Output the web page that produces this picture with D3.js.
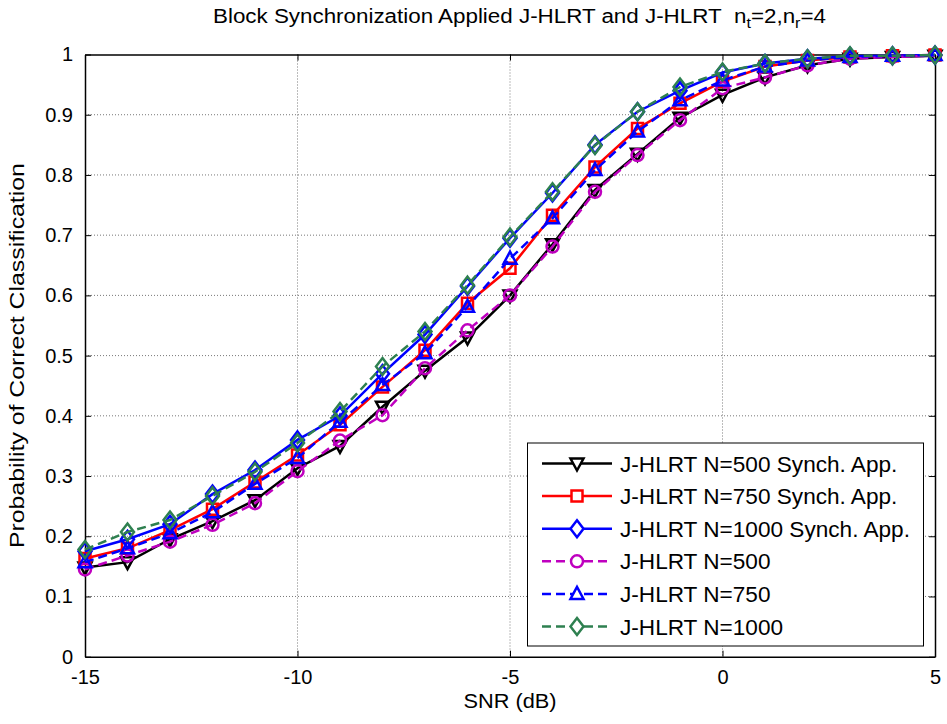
<!DOCTYPE html>
<html><head><meta charset="utf-8">
<script src="https://cdn.jsdelivr.net/npm/d3@7"></script>
<style>body{margin:0;background:#fff}svg{font-family:"Liberation Sans",Arial,sans-serif}</style>
</head><body>
<script>
const snr = [-15,-14,-13,-12,-11,-10,-9,-8,-7,-6,-5,-4,-3,-2,-1,0,1,2,3,4,5];
const synch500  = [0.148,0.157,0.195,0.225,0.260,0.313,0.350,0.415,0.475,0.530,0.600,0.685,0.775,0.835,0.895,0.933,0.962,0.982,0.993,0.996,0.998];
const synch750  = [0.163,0.180,0.210,0.245,0.290,0.335,0.385,0.448,0.509,0.587,0.645,0.733,0.813,0.877,0.919,0.955,0.980,0.990,0.996,0.998,0.999];
const synch1000 = [0.175,0.195,0.220,0.270,0.310,0.360,0.400,0.470,0.535,0.615,0.695,0.770,0.850,0.905,0.940,0.970,0.985,0.993,0.997,0.998,0.999];
const plain500  = [0.145,0.168,0.191,0.219,0.255,0.308,0.359,0.401,0.479,0.542,0.600,0.681,0.772,0.833,0.891,0.944,0.962,0.982,0.993,0.996,0.998];
const plain750  = [0.157,0.180,0.205,0.240,0.287,0.330,0.390,0.451,0.504,0.581,0.661,0.728,0.808,0.872,0.924,0.957,0.980,0.990,0.996,0.998,0.999];
const plain1000 = [0.178,0.207,0.227,0.267,0.307,0.355,0.407,0.482,0.540,0.617,0.697,0.772,0.849,0.905,0.946,0.971,0.985,0.993,0.998,0.998,0.999];
const seriesNames = ["J-HLRT N=500 Synch. App.","J-HLRT N=750 Synch. App.","J-HLRT N=1000 Synch. App.","J-HLRT N=500","J-HLRT N=750","J-HLRT N=1000"];
const xTicks = [-15,-10,-5,0,5];
const yTicks = [0,0.1,0.2,0.3,0.4,0.5,0.6,0.7,0.8,0.9,1];
const yTickLabels = ["0","0.1","0.2","0.3","0.4","0.5","0.6","0.7","0.8","0.9","1"];

const series = [
  {name:seriesNames[0], values:synch500,  color:"#000000", dash:null, marker:"tridown"},
  {name:seriesNames[1], values:synch750,  color:"#ff0000", dash:null, marker:"square"},
  {name:seriesNames[2], values:synch1000, color:"#0000ff", dash:null, marker:"diamond"},
  {name:seriesNames[3], values:plain500,  color:"#bf00bf", dash:"9,5", marker:"circle"},
  {name:seriesNames[4], values:plain750,  color:"#0000ff", dash:"9,5", marker:"triup"},
  {name:seriesNames[5], values:plain1000, color:"#2e8050", dash:"9,5", marker:"diamond"}
];

const W=947,H=724;
const L=85,R=935,T=54.5,B=656.7;
const svg=d3.select("body").append("svg").attr("width",W).attr("height",H);
const x=d3.scaleLinear().domain([-15,5]).range([L,R]);
const y=d3.scaleLinear().domain([0,1]).range([B,T]);

// grid
const g=svg.append("g");
g.selectAll(".gx").data(xTicks.slice(1,-1)).enter().append("line")
 .attr("x1",d=>x(d)).attr("x2",d=>x(d)).attr("y1",T).attr("y2",B)
 .attr("stroke","#555").attr("stroke-width",0.8).attr("stroke-dasharray","1,2");
g.selectAll(".gy").data(yTicks.slice(1,-1)).enter().append("line")
 .attr("x1",L).attr("x2",R).attr("y1",d=>y(d)).attr("y2",d=>y(d))
 .attr("stroke","#555").attr("stroke-width",0.8).attr("stroke-dasharray","1,2");

// axes with inward ticks
const fmtY=(d,i)=>yTickLabels[i];
svg.append("g").attr("transform",`translate(${L},0)`)
 .call(d3.axisLeft(y).tickValues(yTicks).tickFormat(fmtY).tickSizeInner(-6).tickSizeOuter(0).tickPadding(12))
 .call(a=>{a.select(".domain").attr("stroke-width",1.5);a.selectAll("text").attr("font-size",20).attr("fill","#000");});
svg.append("g").attr("transform",`translate(${R},0)`)
 .call(d3.axisRight(y).tickValues(yTicks).tickFormat("").tickSizeInner(-6).tickSizeOuter(0))
 .call(a=>a.select(".domain").attr("stroke-width",1.5));
svg.append("g").attr("transform",`translate(0,${B})`)
 .call(d3.axisBottom(x).tickValues(xTicks).tickFormat(d=>d).tickSizeInner(-6).tickSizeOuter(0).tickPadding(13))
 .call(a=>{a.select(".domain").attr("stroke-width",1.5);a.selectAll("text").attr("font-size",20).attr("fill","#000");});
svg.append("g").attr("transform",`translate(0,${T})`)
 .call(d3.axisTop(x).tickValues(xTicks).tickFormat("").tickSizeInner(-6).tickSizeOuter(0))
 .call(a=>a.select(".domain").attr("stroke-width",1.5));
svg.selectAll(".tick line").attr("stroke","#000");
svg.selectAll(".domain").attr("stroke","#000");

function markerPath(type){
  switch(type){
    case "tridown": return "M-6.5,-5L6.5,-5L0,7Z";
    case "triup": return "M-6.5,5L6.5,5L0,-7Z";
    case "square": return "M-5.5,-5.5H5.5V5.5H-5.5Z";
    case "diamond": return "M0,-8.5L6.5,0L0,8.5L-6.5,0Z";
    case "circle": return "M-6,0A6,6 0 1,0 6,0A6,6 0 1,0 -6,0Z";
  }
}

const line=d3.line().x((d,i)=>x(snr[i])).y(d=>y(d));
const plot=svg.append("g");
series.forEach(s=>{
  const sg=plot.append("g");
  sg.append("path").datum(s.values).attr("d",line).attr("fill","none")
    .attr("stroke",s.color).attr("stroke-width",2.5).attr("stroke-dasharray",s.dash);
  sg.selectAll("path.m").data(s.values).enter().append("path").attr("class","m")
    .attr("d",markerPath(s.marker)).attr("transform",(d,i)=>`translate(${x(snr[i])},${y(d)})`)
    .attr("fill","none").attr("stroke",s.color).attr("stroke-width",2.5);
});

// title
const title=svg.append("text").attr("x",213).attr("y",23)
  .attr("font-size",19.5).attr("fill","#000").style("white-space","pre")
  .attr("textLength",613).attr("lengthAdjust","spacingAndGlyphs");
title.append("tspan").text("Block Synchronization Applied J-HLRT and J-HLRT\u00a0\u00a0n");
title.append("tspan").attr("dy",5).attr("font-size",14).text("t");
title.append("tspan").attr("dy",-5).text("=2,n");
title.append("tspan").attr("dy",5).attr("font-size",14).text("r");
title.append("tspan").attr("dy",-5).text("=4");

svg.append("text").attr("x",(L+R)/2).attr("y",708).attr("text-anchor","middle")
  .attr("font-size",19.5).attr("textLength",93).attr("lengthAdjust","spacingAndGlyphs").text("SNR (dB)");
svg.append("text").attr("transform",`translate(24,${(T+B)/2}) rotate(-90)`).attr("text-anchor","middle")
  .attr("font-size",19.5).attr("textLength",385).attr("lengthAdjust","spacingAndGlyphs")
  .text("Probability of Correct Classification");

// legend
const lg=svg.append("g");
lg.append("rect").attr("x",527.5).attr("y",443).attr("width",396).attr("height",203)
  .attr("fill","#fff").attr("stroke","#000").attr("stroke-width",1);
series.forEach((s,i)=>{
  const cy=463.5+i*32.6;
  lg.append("line").attr("x1",542).attr("x2",612).attr("y1",cy).attr("y2",cy)
    .attr("stroke",s.color).attr("stroke-width",2.5).attr("stroke-dasharray",s.dash);
  lg.append("path").attr("d",markerPath(s.marker)).attr("transform",`translate(577,${cy})`)
    .attr("fill","#fff").attr("stroke",s.color).attr("stroke-width",2.5);
  lg.append("text").attr("x",620).attr("y",cy+8).attr("font-size",22.6).text(s.name);
});
</script>
</body></html>
